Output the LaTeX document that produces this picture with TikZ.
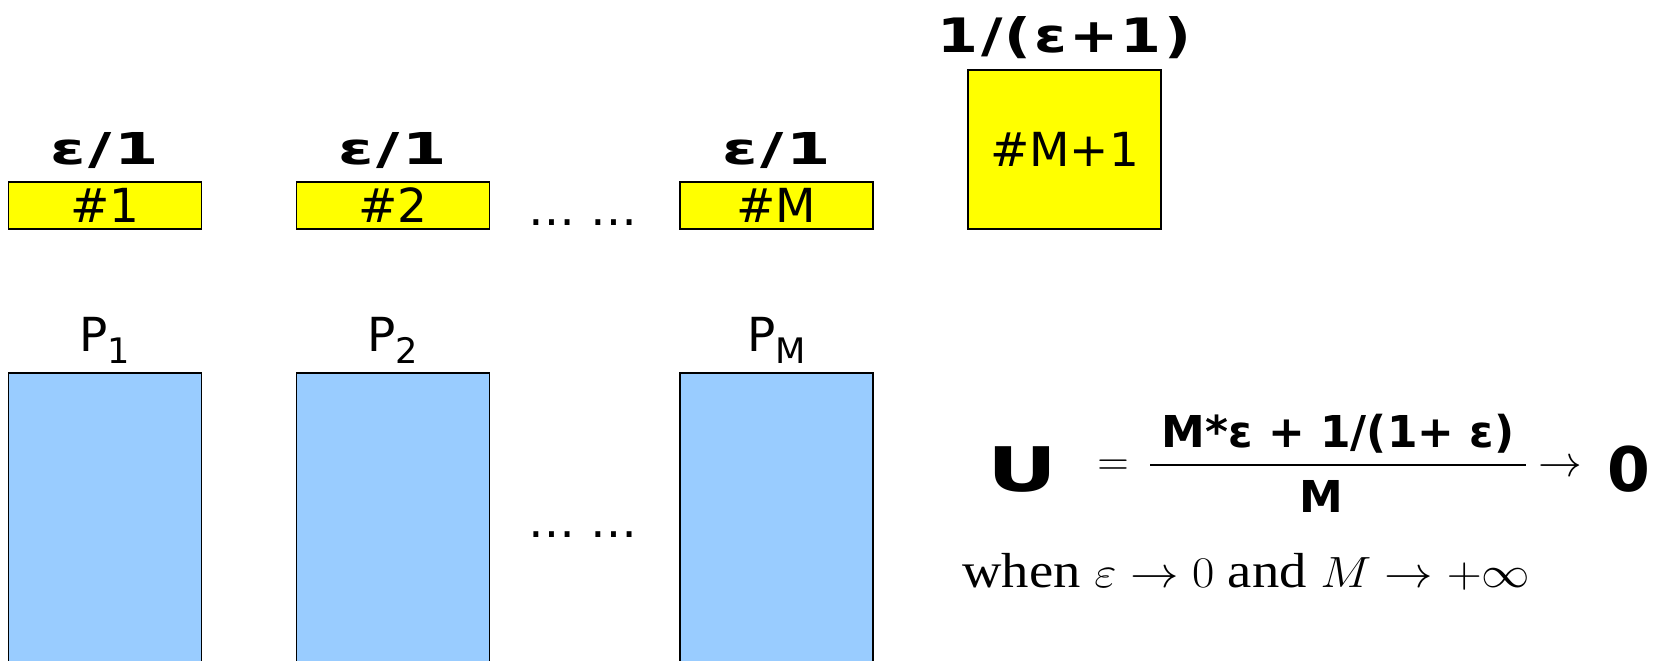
\documentclass[tikz,border=0pt]{standalone}
\usepackage{fontspec}
\setmainfont{Liberation Serif}
\setsansfont{DejaVu Sans}
\usepackage{xcolor}
\usepackage{tikz}
\usetikzlibrary{positioning}

\definecolor{slotyellow}{HTML}{FFFF00}
\definecolor{procblue}{HTML}{99CCFF}

\newcommand\slotfont{\sffamily\fontsize{26.7}{30}\selectfont}
\newcommand\weightfont{\sffamily\bfseries\fontsize{25}{30}\selectfont}
\newcommand\bigfont{\sffamily\bfseries\fontsize{35}{40}\selectfont}
\newcommand\psub[1]{P\raisebox{-0.27em}{\fontsize{20}{20}\selectfont #1}}
% wide bold labels (the original face is wider than DejaVu)
\newcommand\widebold[2]{\scalebox{#1}[1]{\addfontfeatures{LetterSpace=4}#2}}

\begin{document}
\begin{tikzpicture}[
    x=0.02cm, y=0.02cm,
    slot/.style={draw, fill=slotyellow, line width=1.1pt, inner sep=0pt,
      minimum width=3.86cm, minimum height=0.94cm, font=\slotfont},
    bigslot/.style={slot, minimum height=3.18cm},
    proc/.style={draw, fill=procblue, line width=1.1pt, inner sep=0pt,
      minimum width=3.86cm, minimum height=6.6cm},
    weight/.style={anchor=base, font=\weightfont, inner sep=0pt},
    plabel/.style={anchor=base, font=\slotfont, inner sep=0pt},
    dots/.style={anchor=base, font=\slotfont, inner sep=0pt}
  ]
    \clip (0,0) rectangle (1667,660);

    % Time slots (top row)
    \node[slot] (s1) at (105,  454.5) {\#1};
    \node[slot] (s2) at (393,  454.5) {\#2};
    \node[slot] (sm) at (776.5,454.5) {\#M};
    \node[bigslot] (sm1) at (1064.5,510.5) {\#M+1};
    \node[dots] (sdots) at (583,434) {\dots\ \dots};

    % Weights above slots
    \node[weight] (w1) at (105,  495) {\widebold{1.45}{ε/1}};
    \node[weight] (w2) at (393,  495) {\widebold{1.45}{ε/1}};
    \node[weight] (wm) at (776.5,495) {\widebold{1.45}{ε/1}};
    \node[weight, font=\sffamily\bfseries\fontsize{27}{30}\selectfont] (wm1) at (1064.5,607) {\widebold{1.24}{1/(ε+1)}};

    % Processors (bottom row)
    \node[proc] (p1) at (105,  122) {};
    \node[proc] (p2) at (393,  122) {};
    \node[proc] (pm) at (776.5,122) {};
    \node[dots] (pdots) at (583,123) {\dots\ \dots};

    \node[plabel] (lp1) at (105,  309) {\psub{1}};
    \node[plabel] (lp2) at (393,  309) {\psub{2}};
    \node[plabel] (lpm) at (776.5,309) {\psub{M}};

    % Utilisation bound
    \node[anchor=base, font=\bigfont, inner sep=0pt] (uvar) at (1022.5,169) {\scalebox{1.4}[1]{U}};
    \node[font=\fontsize{32}{34}\selectfont, inner sep=0pt] (eq) at (1113,192) {$=$};
    \node[weight] (num) at (1338,213) {M*ε + 1/(1+ ε)};
    \node[weight] (den) at (1321,148) {M};
    \draw[line width=1.1pt] (1150,195) -- (1526,195);
    \node[font=\fontsize{28}{30}\selectfont, inner sep=0pt] (lim) at (1560,192) {$\rightarrow$};
    \node[anchor=base, font=\bigfont, inner sep=0pt] (zero) at (1628.5,169) {0};

    \node[anchor=base west, inner sep=0pt, font=\rmfamily\fontsize{28}{30}\selectfont] (cond) at (962,73)
      {\scalebox{1.11}[1]{when $\varepsilon \rightarrow 0$ and $M \rightarrow +\infty$}};
  \end{tikzpicture}
\end{document}
